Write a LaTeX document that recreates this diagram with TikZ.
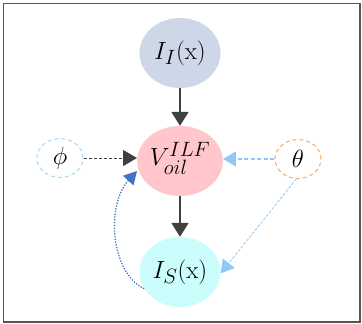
\documentclass[tikz,border=0pt]{standalone}
\usetikzlibrary{arrows.meta,shapes.geometric}
\definecolor{frameg}{HTML}{555555}
\definecolor{nodeI}{HTML}{CDD7E7}
\definecolor{nodeV}{HTML}{FFC7CC}
\definecolor{nodeS}{HTML}{CCFDFD}
\definecolor{phib}{HTML}{A8DCF5}
\definecolor{thetab}{HTML}{F6B26B}
\definecolor{darkar}{HTML}{404040}
\definecolor{lightar}{HTML}{90C8F8}
\definecolor{dotblue}{HTML}{4472C4}
\begin{document}
\begin{tikzpicture}[x=1pt,y=-1pt,
  bignode/.style={ellipse,minimum width=81pt,minimum height=70pt,inner sep=0pt,font=\fontsize{29}{32}\selectfont},
  smallnode/.style={ellipse,minimum width=46pt,minimum height=39pt,inner sep=0pt,dashed,line width=1.1pt,dash pattern=on 4pt off 3pt,font=\fontsize{28}{32}\selectfont},
  mainarrow/.style={darkar,line width=2pt,-{Triangle[length=14pt,width=17pt]}},
]
\useasboundingbox (0,0) rectangle (362,324);
\draw[frameg,line width=1.6pt] (3.5,3.5) rectangle (360,322);
\node[bignode,fill=nodeI] (II) at (180,53) {$I_I(\mathrm{x})$};
\node[bignode,fill=nodeV] (V) at (180,161) {$V^{ILF}_{\mathstrut oil}$};
\node[bignode,fill=nodeS] (IS) at (180,272) {$I_S(\mathrm{x})$};
\node[smallnode,draw=phib] (phi) at (60,158) {$\phi$};
\node[smallnode,draw=thetab] (theta) at (298,159) {$\theta$};
\coordinate (tip) at (137,171);
\draw[mainarrow] (II) -- (V);
\draw[mainarrow] (V) -- (IS);
\draw[darkar,line width=1pt,dash pattern=on 3pt off 2pt,-{Triangle[length=14pt,width=16pt]}] (phi.east) -- (V.west |- phi.east);
\draw[lightar,line width=1.2pt,dash pattern=on 4pt off 2.5pt,-{Triangle[length=13pt,width=15pt]}] (theta.west) -- (V.east |- theta.west);
\draw[lightar,line width=0.8pt,dash pattern=on 3pt off 1.5pt,-{Triangle[length=13pt,width=15pt]}] (theta.265) -- (IS.358);
\draw[dotblue,line width=1.3pt,dash pattern=on 1.3pt off 1.5pt,-{Triangle[length=13pt,width=14pt]}] (IS.205) .. controls (110,272) and (106,205) .. (tip);
\end{tikzpicture}
\end{document}
